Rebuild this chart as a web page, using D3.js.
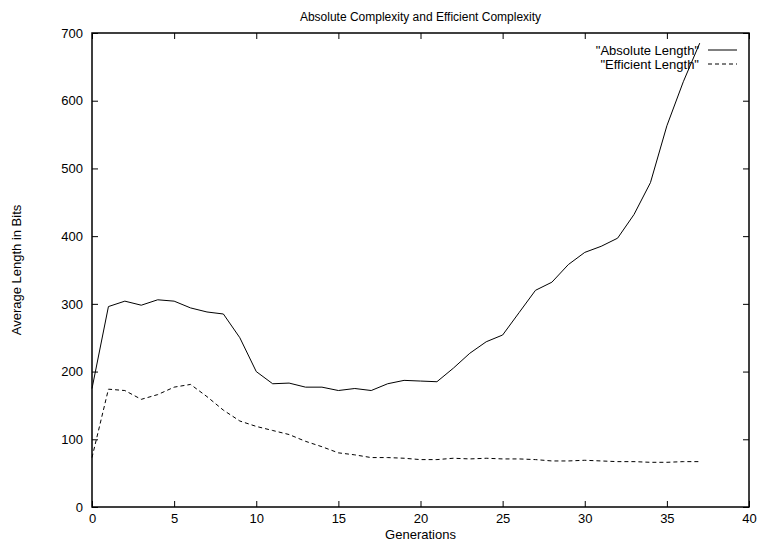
<!DOCTYPE html>
<html>
<head>
<meta charset="utf-8">
<script src="https://cdn.jsdelivr.net/npm/d3@7"></script>
<style>
  body { margin: 0; background: #fff; }
  text { font-family: "Liberation Sans", Arial, sans-serif; fill: #000; }
</style>
</head>
<body>
<div id="container"></div>
<script>
// data
let generations = d3.range(0, 38);
let absoluteLength = [175, 296, 304, 298, 306, 304, 294, 288, 285, 250,
                      200, 182, 183, 177, 177, 172, 175, 172, 182, 187,
                      186, 185, 205, 227, 244, 254, 287, 320, 332, 358,
                      376, 385, 397, 432, 479, 563, 628, 685];
let efficientLength = [73, 174, 172, 159, 166, 177, 181, 163, 143, 127,
                       119, 113, 107, 97, 89, 80, 77, 73, 73, 72,
                       70, 70, 72, 71, 72, 71, 71, 70, 68, 68,
                       69, 68, 67, 67, 66, 66, 67, 67];
let xTicks = [0, 5, 10, 15, 20, 25, 30, 35, 40];
let yTicks = [0, 100, 200, 300, 400, 500, 600, 700];

let width = 760, height = 542;
let plotLeft = 92, plotRight = 749, plotTop = 33, plotBottom = 507;

let svg = d3.select('#container')
            .append('svg')
            .attr('width', width)
            .attr('height', height);

let x = d3.scaleLinear().domain([0, 40]).range([plotLeft, plotRight]);
let y = d3.scaleLinear().domain([0, 700]).range([plotBottom, plotTop]);

// bottom + left axes (ticks point inward)
svg.append('g')
    .attr('transform', `translate(0,${plotBottom})`)
    .call(d3.axisBottom(x).tickValues(xTicks).tickSize(-6).tickPadding(7).tickSizeOuter(0))
    .call(g => g.select('.domain').remove())
    .selectAll('text').attr('font-size', 13);

svg.append('g')
    .attr('transform', `translate(${plotLeft},0)`)
    .call(d3.axisLeft(y).tickValues(yTicks).tickSize(-6).tickPadding(9).tickSizeOuter(0))
    .call(g => g.select('.domain').remove())
    .selectAll('text').attr('font-size', 13);

// mirrored ticks on top and right
svg.append('g')
    .attr('transform', `translate(0,${plotTop})`)
    .call(d3.axisTop(x).tickValues(xTicks).tickSize(-6).tickFormat(''))
    .call(g => g.select('.domain').remove());

svg.append('g')
    .attr('transform', `translate(${plotRight},0)`)
    .call(d3.axisRight(y).tickValues(yTicks).tickSize(-6).tickFormat(''))
    .call(g => g.select('.domain').remove());

// border
svg.append('rect')
    .attr('x', plotLeft).attr('y', plotTop)
    .attr('width', plotRight - plotLeft).attr('height', plotBottom - plotTop)
    .attr('fill', 'none').attr('stroke', '#000').attr('stroke-width', 1.5);

let line = d3.line()
    .x((d, i) => x(generations[i]))
    .y(d => y(d));

svg.append('path')
    .datum(absoluteLength)
    .attr('d', line)
    .attr('fill', 'none')
    .attr('stroke', '#000')
    .attr('stroke-width', 1);

svg.append('path')
    .datum(efficientLength)
    .attr('d', line)
    .attr('fill', 'none')
    .attr('stroke', '#000')
    .attr('stroke-width', 1)
    .attr('stroke-dasharray', '4,3');

// legend
let legend = [
    {label: '"Absolute Length"', dash: null},
    {label: '"Efficient Length"', dash: '4,3'}
];
legend.forEach((d, i) => {
    let ly = 50 + i * 14;
    svg.append('text')
        .attr('x', 699).attr('y', ly + 5)
        .attr('text-anchor', 'end')
        .attr('font-size', 13)
        .text(d.label);
    svg.append('line')
        .attr('x1', 708).attr('x2', 737)
        .attr('y1', ly).attr('y2', ly)
        .attr('stroke', '#000')
        .attr('stroke-dasharray', d.dash);
});

// titles
svg.append('text')
    .attr('x', (plotLeft + plotRight) / 2).attr('y', 21)
    .attr('text-anchor', 'middle')
    .attr('font-size', 12)
    .text('Absolute Complexity and Efficient Complexity');

svg.append('text')
    .attr('x', (plotLeft + plotRight) / 2).attr('y', 539)
    .attr('text-anchor', 'middle')
    .attr('font-size', 13)
    .text('Generations');

svg.append('text')
    .attr('transform', 'translate(21,270) rotate(-90)')
    .attr('text-anchor', 'middle')
    .attr('font-size', 13)
    .text('Average Length in Bits');
</script>
</body>
</html>
